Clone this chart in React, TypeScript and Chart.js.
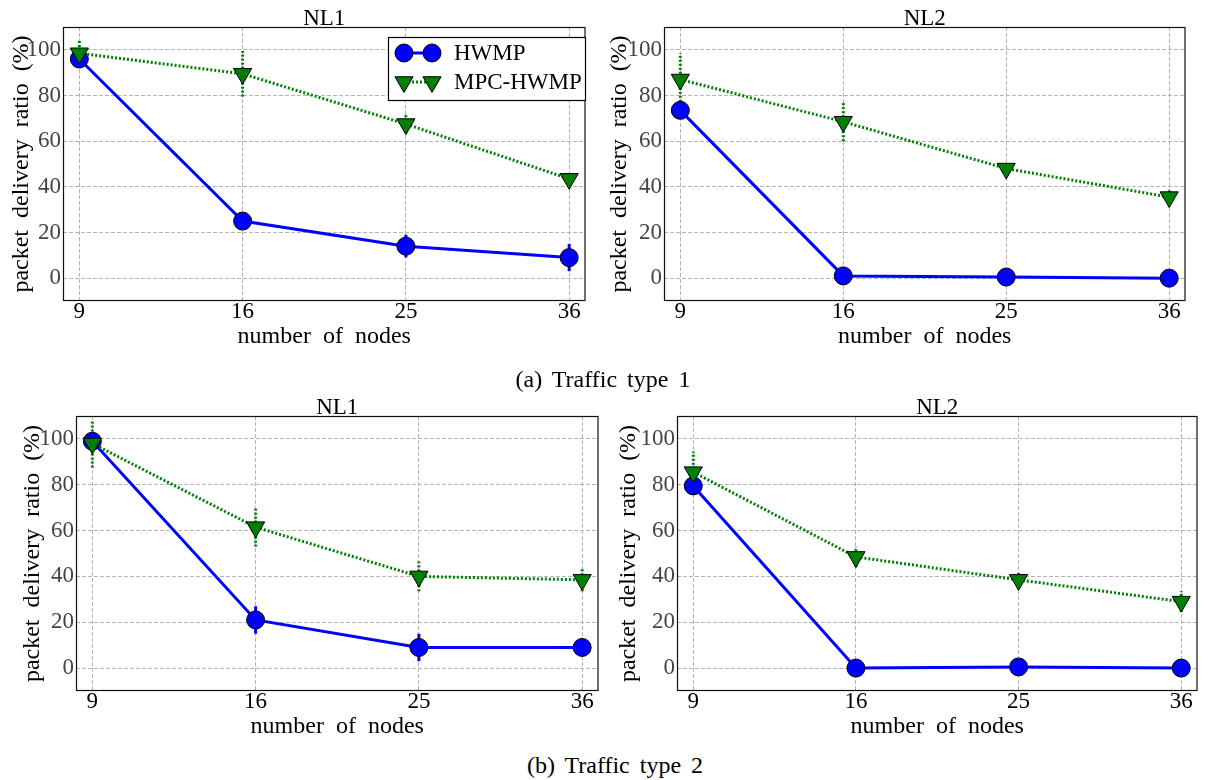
import React, { useEffect, useRef } from 'react';
import { Chart, registerables } from 'chart.js';

Chart.register(...registerables);

// ---------- data ----------
const nodeCounts = ['9', '16', '25', '36'];
const nodeIndex = [0, 1, 2, 3];
const yTickValues = [0, 20, 40, 60, 80, 100];
const seriesNames = ['HWMP', 'MPC-HWMP'];
const panelTitles = ['NL1', 'NL2', 'NL1', 'NL2'];
const captions = ['(a) Traffic type 1', '(b) Traffic type 2'];

// Traffic type 1, NL1
const t1Nl1Hwmp = [96, 25, 14, 9];
const t1Nl1HwmpErr = [2, 2, 5, 6];
const t1Nl1Mpc = [98.5, 89.5, 67.5, 43.5];
const t1Nl1MpcErr = [6, 10, 4, 2.5];

// Traffic type 1, NL2
const t1Nl2Hwmp = [73.5, 1, 0.5, 0];
const t1Nl2HwmpErr = [1, 0.5, 0.5, 0.3];
const t1Nl2Mpc = [87, 68.5, 48, 35.5];
const t1Nl2MpcErr = [11.5, 8.5, 2, 3];

// Traffic type 2, NL1
const t2Nl1Hwmp = [99, 21, 9, 9];
const t2Nl1HwmpErr = [2, 6, 6, 1];
const t2Nl1Mpc = [98, 61.5, 40, 38.5];
const t2Nl1MpcErr = [10.5, 8.5, 6.5, 5];

// Traffic type 2, NL2
const t2Nl2Hwmp = [79.5, 0, 0.5, 0];
const t2Nl2HwmpErr = [1.5, 0.5, 1, 0.5];
const t2Nl2Mpc = [85.5, 48.5, 38.5, 29];
const t2Nl2MpcErr = [9, 4.5, 3, 4.5];

// ---------- styles / layout ----------
const FONT = '"Liberation Serif", "Times New Roman", serif';
const BLUE = '#0000ff';
const GREEN = '#008000';
const GRID = '#b4b4b4';
const DOT = [2, 2];

type Layout = {
  left: number; top: number; width: number; height: number;
  yAxisWidth: number; yTitleCenter: number; titleCenter: number; plotTop: number;
  xAxisHeight: number; xTitleFromBottom: number; legend: boolean;
};

const layouts: Layout[] = [
  { left: 0, top: 0, width: 597, height: 351, yAxisWidth: 63, yTitleCenter: 22, titleCenter: 19, plotTop: 27, xAxisHeight: 50, xTitleFromBottom: 14, legend: true },
  { left: 600, top: 0, width: 597, height: 351, yAxisWidth: 64, yTitleCenter: 20, titleCenter: 19, plotTop: 27, xAxisHeight: 50, xTitleFromBottom: 14, legend: false },
  { left: 0, top: 385, width: 610, height: 356, yAxisWidth: 76, yTitleCenter: 33, titleCenter: 22.5, plotTop: 31, xAxisHeight: 50, xTitleFromBottom: 14, legend: false },
  { left: 610, top: 385, width: 599, height: 356, yAxisWidth: 67, yTitleCenter: 19, titleCenter: 22.5, plotTop: 31, xAxisHeight: 50, xTitleFromBottom: 14, legend: false },
];

const panelSeries = [
  { hwmp: t1Nl1Hwmp, hwmpErr: t1Nl1HwmpErr, mpc: t1Nl1Mpc, mpcErr: t1Nl1MpcErr },
  { hwmp: t1Nl2Hwmp, hwmpErr: t1Nl2HwmpErr, mpc: t1Nl2Mpc, mpcErr: t1Nl2MpcErr },
  { hwmp: t2Nl1Hwmp, hwmpErr: t2Nl1HwmpErr, mpc: t2Nl1Mpc, mpcErr: t2Nl1MpcErr },
  { hwmp: t2Nl2Hwmp, hwmpErr: t2Nl2HwmpErr, mpc: t2Nl2Mpc, mpcErr: t2Nl2MpcErr },
];

// ---------- plugins ----------
const wordSpacingPlugin = {
  id: 'wordSpacing',
  beforeDraw(chart: any) {
    try { (chart.ctx as any).wordSpacing = '6px'; } catch (e) { /* ignore */ }
  },
};

const errorBarPlugin = {
  id: 'errorBars',
  beforeDatasetsDraw(chart: any) {
    const { ctx, chartArea, scales } = chart;
    const xs = scales.x;
    const ys = scales.y;
    ctx.save();
    ctx.beginPath();
    ctx.rect(chartArea.left, chartArea.top, chartArea.right - chartArea.left, chartArea.bottom - chartArea.top);
    ctx.clip();
    chart.data.datasets.forEach((ds: any) => {
      if (!ds.errors) return;
      ctx.strokeStyle = ds.borderColor;
      ctx.lineWidth = ds.borderWidth;
      ctx.setLineDash(ds.borderDash || []);
      ctx.lineCap = 'butt';
      ds.data.forEach((pt: any, i: number) => {
        const e = ds.errors[i];
        const px = xs.getPixelForValue(pt.x);
        ctx.beginPath();
        ctx.moveTo(px, ys.getPixelForValue(pt.y - e));
        ctx.lineTo(px, ys.getPixelForValue(pt.y + e));
        ctx.stroke();
      });
    });
    ctx.restore();
  },
};

const framePlugin = {
  id: 'frame',
  afterDatasetsDraw(chart: any) {
    const { ctx, chartArea: a } = chart;
    ctx.save();
    ctx.setLineDash([]);
    ctx.strokeStyle = '#111';
    ctx.lineWidth = 1.2;
    ctx.strokeRect(a.left + 0.5, a.top + 0.5, a.right - a.left - 1, a.bottom - a.top - 1);
    ctx.restore();
  },
};

function drawMarker(ctx: CanvasRenderingContext2D, style: string, x: number, y: number, r: number, fill: string) {
  ctx.beginPath();
  if (style === 'circle') {
    ctx.arc(x, y, r, 0, Math.PI * 2);
  } else {
    ctx.moveTo(x, y + r);
    ctx.lineTo(x - r * Math.sin(Math.PI / 3), y - r / 2);
    ctx.lineTo(x + r * Math.sin(Math.PI / 3), y - r / 2);
    ctx.closePath();
  }
  ctx.fillStyle = fill;
  ctx.fill();
  ctx.setLineDash([]);
  ctx.lineWidth = 1;
  ctx.strokeStyle = '#000';
  ctx.stroke();
}

const customLegendPlugin = {
  id: 'customLegend',
  afterDraw(chart: any, _args: any, opts: any) {
    if (!opts || !opts.display) return;
    const { ctx } = chart;
    const { left, top, right, bottom } = opts.box;
    ctx.save();
    ctx.setLineDash([]);
    ctx.fillStyle = '#fff';
    ctx.fillRect(left, top, right - left, bottom - top);
    ctx.strokeStyle = '#000';
    ctx.lineWidth = 1.2;
    ctx.strokeRect(left + 0.5, top + 0.5, right - left - 1, bottom - top - 1);
    const order = [1, 0]; // HWMP first, then MPC-HWMP
    order.forEach((dsIndex, row) => {
      const ds = chart.data.datasets[dsIndex];
      const cy = top + opts.firstRow + row * opts.rowGap;
      const x1 = left + opts.markerX1;
      const x2 = left + opts.markerX2;
      ctx.beginPath();
      ctx.strokeStyle = ds.borderColor;
      ctx.lineWidth = ds.borderWidth;
      ctx.setLineDash(ds.borderDash || []);
      ctx.moveTo(x1, cy);
      ctx.lineTo(x2, cy);
      ctx.stroke();
      drawMarker(ctx, ds.pointStyle, x1, cy, ds.pointRadius, ds.pointBackgroundColor);
      drawMarker(ctx, ds.pointStyle, x2, cy, ds.pointRadius, ds.pointBackgroundColor);
      ctx.fillStyle = '#000';
      ctx.font = '23px ' + FONT;
      ctx.textAlign = 'left';
      ctx.textBaseline = 'middle';
      ctx.fillText(ds.label, left + opts.textX, cy + 1);
    });
    ctx.restore();
  },
};

// ---------- chart ----------
function PanelChart({ index }: { index: number }) {
  const ref = useRef<HTMLCanvasElement | null>(null);
  const L = layouts[index];
  const S = panelSeries[index];

  useEffect(() => {
    if (!ref.current) return;
    const titleLH = 23 * 0.7;
    const titlePadTop = L.titleCenter - titleLH / 2;
    const titlePadBottom = L.plotTop - titleLH - titlePadTop;

    const datasets: any[] = [
      {
        label: seriesNames[1],
        data: nodeIndex.map((x, i) => ({ x, y: S.mpc[i] })),
        errors: S.mpcErr,
        borderColor: GREEN,
        backgroundColor: GREEN,
        borderWidth: 3,
        borderDash: DOT,
        pointStyle: 'triangle',
        rotation: 180,
        pointRotation: 180,
        pointRadius: 10.5,
        pointBackgroundColor: GREEN,
        pointBorderColor: '#000',
        pointBorderWidth: 1,
        tension: 0,
        order: 0,
        clip: false,
      },
      {
        label: seriesNames[0],
        data: nodeIndex.map((x, i) => ({ x, y: S.hwmp[i] })),
        errors: S.hwmpErr,
        borderColor: BLUE,
        backgroundColor: BLUE,
        borderWidth: 3,
        pointStyle: 'circle',
        pointRadius: 9,
        pointBackgroundColor: BLUE,
        pointBorderColor: '#000',
        pointBorderWidth: 1,
        tension: 0,
        order: 1,
        clip: false,
      },
    ];

    const chart = new Chart(ref.current, {
      type: 'line',
      data: { datasets },
      plugins: [wordSpacingPlugin, errorBarPlugin, framePlugin, customLegendPlugin],
      options: {
        responsive: false,
        animation: false,
        devicePixelRatio: 1,
        layout: { padding: 0 },
        font: { family: FONT },
        plugins: {
          legend: { display: false },
          tooltip: { enabled: false },
          title: {
            display: true,
            text: panelTitles[index],
            fullSize: false,
            color: '#000',
            font: { family: FONT, size: 23, weight: 'normal', lineHeight: 0.7 },
            padding: { top: titlePadTop, bottom: titlePadBottom },
          },
          customLegend: {
            display: L.legend,
            box: { left: 388, top: 37, right: 586, bottom: 101 },
            firstRow: 16,
            rowGap: 29,
            markerX1: 16,
            markerX2: 44,
            textX: 66,
          },
        } as any,
        scales: {
          x: {
            type: 'linear',
            min: -0.1,
            max: 3.1,
            afterBuildTicks: (s: any) => { s.ticks = nodeIndex.map((v) => ({ value: v })); },
            afterFit: (s: any) => { s.height = L.xAxisHeight; },
            ticks: {
              callback: (_v: any, i: number) => nodeCounts[i],
              color: '#000',
              font: { family: FONT, size: 23, lineHeight: 1 },
              padding: -1,
              maxRotation: 0,
              autoSkip: false,
            },
            grid: { color: GRID, lineWidth: 1, drawTicks: false },
            border: { display: false, dash: [4, 2] },
            title: {
              display: true,
              text: 'number of nodes',
              color: '#000',
              font: { family: FONT, size: 24, lineHeight: 1 },
              padding: { top: 0, bottom: L.xTitleFromBottom - 12 },
            },
          },
          y: {
            type: 'linear',
            min: -10,
            max: 110,
            afterBuildTicks: (s: any) => { s.ticks = yTickValues.map((v) => ({ value: v })); },
            afterFit: (s: any) => { s.width = L.yAxisWidth; },
            ticks: {
              color: '#444',
              font: { family: FONT, size: 23, lineHeight: 1 },
              padding: 2,
              autoSkip: false,
            },
            grid: { color: GRID, lineWidth: 1, drawTicks: false },
            border: { display: false, dash: [4, 2] },
            title: {
              display: true,
              text: 'packet delivery ratio (%)',
              color: '#000',
              font: { family: FONT, size: 24, lineHeight: 1 },
              padding: { top: L.yTitleCenter - 12, bottom: 0 },
            },
          },
        },
      } as any,
    });
    return () => chart.destroy();
  }, []);

  return (
    <canvas
      ref={ref}
      width={L.width}
      height={L.height}
      style={{ position: 'absolute', left: L.left, top: L.top, width: L.width, height: L.height }}
    />
  );
}

const captionStyle: React.CSSProperties = {
  position: 'absolute',
  width: 600,
  textAlign: 'center',
  fontFamily: FONT,
  fontSize: 24,
  lineHeight: '24px',
  wordSpacing: '4px',
  color: '#000',
  whiteSpace: 'nowrap',
};

export default function App() {
  return (
    <div style={{ position: 'absolute', left: 0, top: 0, width: 1209, height: 780, background: '#fff', overflow: 'hidden' }}>
      {[0, 1, 2, 3].map((i) => <PanelChart key={i} index={i} />)}
      <div style={{ ...captionStyle, left: 303, top: 367 }}>{captions[0]}</div>
      <div style={{ ...captionStyle, left: 315, top: 753 }}>{captions[1]}</div>
    </div>
  );
}
